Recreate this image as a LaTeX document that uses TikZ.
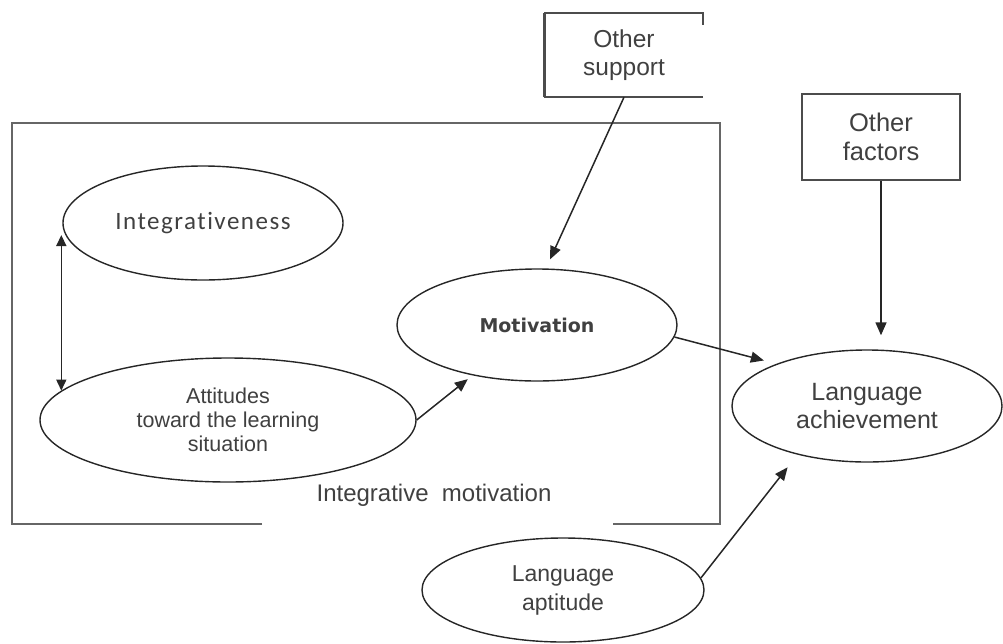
\documentclass[tikz,border=0pt]{standalone}
\usepackage{fontspec}
\setmainfont{Liberation Sans}
\newfontfamily\carlfont[LetterSpace=6,Ligatures={NoCommon}]{Carlito}
\newfontfamily\dejafont{DejaVu Sans}
\usetikzlibrary{shapes.geometric,arrows.meta}
\begin{document}
\begin{tikzpicture}[x=1pt,y=-1pt,
  oval/.style={ellipse,draw=black!85,line width=1.4pt,inner sep=0pt,align=center,text=black!75},
  conn/.style={draw=black!85,line width=1.5pt,-{Triangle[length=13pt,width=11pt]}},
  frame/.style={draw=black!60,line width=2.4pt},
  boxline/.style={draw=black!70,line width=2pt},
  lbl/.style={align=center,text=black!75,font=\fontsize{24}{28}\selectfont}
]
\useasboundingbox (0,0) rectangle (1003,643);

% ellipses
\node[oval,minimum width=280pt,minimum height=114pt,font=\carlfont\fontsize{25}{28}\selectfont] (integ) at (203,223) {Integrativeness};
\node[oval,minimum width=376pt,minimum height=124pt,font=\fontsize{21.5}{24}\selectfont] (att) at (228,420) {Attitudes\\toward the learning\\situation};
\node[oval,minimum width=280pt,minimum height=112pt,font=\dejafont\bfseries\fontsize{19}{22}\selectfont] (mot) at (537,325) {Motivation};
\node[oval,minimum width=270pt,minimum height=112pt,font=\fontsize{25}{28}\selectfont] (lach) at (867,406) {Language\\achievement};
\node[oval,minimum width=282pt,minimum height=104pt,font=\fontsize{23}{29}\selectfont] (apt) at (563,590) {Language\\aptitude};

% boxes
\node[lbl,font=\fontsize{24.5}{28}\selectfont,minimum width=158pt,minimum height=84pt,inner sep=0pt] (os) at (624,55) {Other\\support};
\draw[boxline] (os.south east) -- (os.south west) -- (os.north west) -- (os.north east) -- ++(0,12);
\draw[boxline,line width=3pt] (os.south west) -- (os.north west);
\node[lbl,font=\fontsize{25.5}{29}\selectfont,minimum width=158pt,minimum height=86pt,inner sep=0pt,boxline] (of) at (881,137) {Other\\factors};

% frame
\node[lbl] (im) at (434,495) {Integrative\ \ motivation};
\draw[frame] (262,524) -- (12,524) -- (12,123) -- (720,123) -- (720,524) -- (613,524);

% connectors
\draw[conn,shorten >=10pt] (os.south) -- (mot.81);
\draw[conn,shorten >=14pt] (of.south) -- (of.south |- lach.north);
\draw[conn,shorten >=13pt] (mot.-5) -- (lach.155);
\draw[conn,shorten >=6pt] (att.east) -- (mot.218);
\draw[conn,{Triangle[length=11pt,width=10pt]}-{Triangle[length=11pt,width=10pt]}] (att.170 |- integ.185) -- (att.170);
\draw[conn,shorten >=16pt] (apt.5) -- (lach.215);
\end{tikzpicture}
\end{document}
